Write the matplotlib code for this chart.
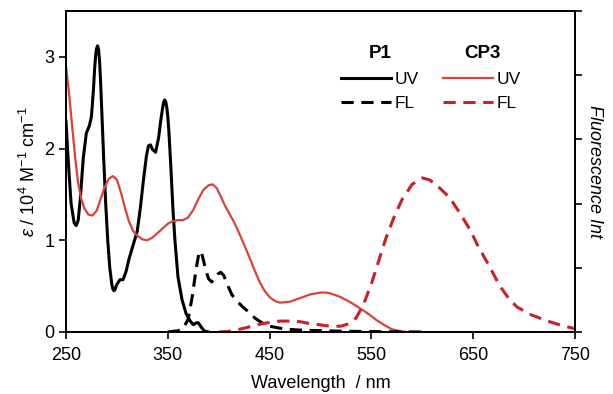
import matplotlib
matplotlib.use('Agg')
import matplotlib.pyplot as plt
from matplotlib.lines import Line2D

plt.rcParams['font.family'] = ['Liberation Sans', 'DejaVu Sans']
plt.rcParams['mathtext.fontset'] = 'custom'
plt.rcParams['mathtext.rm'] = 'Liberation Sans'
plt.rcParams['mathtext.it'] = 'Liberation Sans:italic'

# P1 absorption (left axis, 10^4 M^-1 cm^-1)
p1_uv_wl = [250, 252, 255, 258, 260, 262, 264, 267, 270, 273, 275, 277, 278, 279, 280,
            281, 282, 283, 284, 285, 287, 289, 291, 293, 295, 296, 297, 298, 300, 303,
            306, 309, 312, 316, 320, 323, 326, 329, 331, 333, 335, 338, 341, 343, 345,
            346, 347, 348, 349, 350, 351, 353, 355, 357, 360, 364, 368, 372, 375, 378,
            380, 383, 386, 390]
p1_uv = [2.3, 1.9, 1.4, 1.19, 1.16, 1.22, 1.45, 1.9, 2.17, 2.25, 2.35, 2.65, 2.85, 3.0, 3.09,
         3.12, 3.08, 2.95, 2.72, 2.45, 1.9, 1.4, 1.0, 0.7, 0.52, 0.47, 0.45, 0.46, 0.52, 0.57,
         0.57, 0.66, 0.8, 0.95, 1.1, 1.35, 1.65, 1.92, 2.03, 2.04, 1.99, 1.96, 2.12, 2.3, 2.45,
         2.51, 2.53, 2.51, 2.45, 2.35, 2.2, 1.8, 1.35, 1.0, 0.6, 0.35, 0.2, 0.12, 0.08, 0.1,
         0.1, 0.05, 0.01, 0.0]

# CP3 absorption (left axis)
cp3_uv_wl = [250, 253, 256, 259, 262, 265, 268, 272, 276, 280, 284, 288, 292, 296, 300,
             304, 308, 312, 316, 320, 325, 330, 335, 340, 345, 350, 355, 360, 365, 370,
             375, 380, 385, 390, 394, 398, 402, 406, 410, 415, 420, 425, 430, 435, 440,
             445, 450, 455, 460, 470, 480, 490, 500, 505, 510, 520, 530, 540, 548, 555,
             562, 570, 578, 585, 600]
cp3_uv = [2.9, 2.6, 2.25, 1.9, 1.62, 1.45, 1.35, 1.28, 1.27, 1.32, 1.45, 1.58, 1.67, 1.7, 1.66,
          1.52, 1.35, 1.2, 1.1, 1.05, 1.01, 1.0, 1.03, 1.08, 1.13, 1.18, 1.21, 1.22, 1.22, 1.25,
          1.33, 1.45, 1.55, 1.6, 1.61, 1.57, 1.48, 1.38, 1.3, 1.2, 1.08, 0.95, 0.82, 0.68, 0.55,
          0.45, 0.38, 0.34, 0.32, 0.33, 0.37, 0.41, 0.43, 0.43, 0.42, 0.38, 0.32, 0.25, 0.19, 0.13,
          0.08, 0.03, 0.01, 0.0, 0.0]

# P1 fluorescence (right axis)
p1_fl_wl = [350, 360, 365, 370, 374, 378, 380, 381, 382, 383, 385, 387, 390, 393, 396,
            399, 402, 405, 409, 413, 418, 423, 428, 433, 438, 443, 450, 460, 470, 480,
            500, 530, 560, 600]
p1_fl = [0.0, 0.02, 0.05, 0.2, 0.55, 1.0, 1.18, 1.24, 1.26, 1.24, 1.12, 0.98, 0.83, 0.78, 0.82,
         0.9, 0.93, 0.88, 0.72, 0.58, 0.48, 0.4, 0.33, 0.25, 0.19, 0.14, 0.09, 0.06, 0.04, 0.03,
         0.02, 0.01, 0.005, 0.0]

# CP3 fluorescence (right axis)
cp3_fl_wl = [400, 410, 420, 430, 440, 450, 460, 470, 480, 490, 500, 510, 520, 528, 535,
             542, 550, 557, 564, 572, 580, 590, 600, 607, 614, 627, 637, 647, 655, 665,
             676, 685, 693, 705, 718, 729, 740, 750]
cp3_fl = [0.0, 0.01, 0.04, 0.08, 0.12, 0.15, 0.17, 0.17, 0.16, 0.13, 0.11, 0.09, 0.09, 0.13, 0.22,
          0.42, 0.75, 1.1, 1.45, 1.78, 2.06, 2.3, 2.4, 2.37, 2.29, 2.09, 1.85, 1.59, 1.33, 1.05,
          0.72, 0.52, 0.39, 0.28, 0.2, 0.14, 0.09, 0.05]

xticks = [250, 350, 450, 550, 650, 750]

red_uv = '#d9413f'
red_fl = '#c8202a'

fig = plt.figure(figsize=(6.13, 3.94), dpi=100)
ax = fig.add_axes([66 / 613, 62 / 394, 509 / 613, 321 / 394])
ax2 = ax.twinx()

ax.plot(p1_uv_wl, p1_uv, color='black', lw=2.2)
ax.plot(cp3_uv_wl, cp3_uv, color=red_uv, lw=1.6)
ax2.plot(p1_fl_wl, p1_fl, color='black', lw=2.2, dashes=(4, 2.5))
ax2.plot(cp3_fl_wl, cp3_fl, color=red_fl, lw=2.2, dashes=(4, 2.5))

ax.set_xlim(250, 750)
ax.set_ylim(0, 3.5)
ax2.set_ylim(0, 5)
ax.set_xticks(xticks)
ax.set_yticks([0, 1, 2, 3])
ax2.set_yticks([0, 1, 2, 3, 4, 5])
ax2.set_yticklabels([])
ax.tick_params(labelsize=13, direction='out', length=5, width=1.2)
ax.tick_params(axis='x', pad=6)
ax2.tick_params(direction='out', length=5, width=1.2)
for a in (ax, ax2):
    for s in a.spines.values():
        s.set_linewidth(1.3)

ax.set_xlabel('Wavelength  / nm', fontsize=13, labelpad=8)
ax.set_ylabel(r'$\varepsilon$ / 10$^{4}$ M$^{-1}$ cm$^{-1}$', fontsize=13, labelpad=4)
ax2.set_ylabel('Fluorescence Int', fontsize=13, style='italic', rotation=270, labelpad=12)

h1 = [Line2D([], [], color='black', lw=2.2), Line2D([], [], color='black', lw=2.2, dashes=(4, 2.5))]
h2 = [Line2D([], [], color=red_uv, lw=1.6), Line2D([], [], color=red_fl, lw=2.2, dashes=(4, 2.5))]
kw = dict(frameon=False, fontsize=12.5, handlelength=2.9, handletextpad=0.2,
          labelspacing=0.55, borderpad=0, borderaxespad=0, loc='upper left',
          title_fontproperties={'weight': 'bold', 'size': 13.5})
leg1 = ax2.legend(h1, ['UV', 'FL'], title='P1', bbox_to_anchor=((341 - 66) / 509, (332 - 45) / 321), **kw)
ax2.add_artist(leg1)
ax2.legend(h2, ['UV', 'FL'], title='CP3', bbox_to_anchor=((443 - 66) / 509, (332 - 45) / 321), **kw)

fig.savefig('out.png', dpi=100)
